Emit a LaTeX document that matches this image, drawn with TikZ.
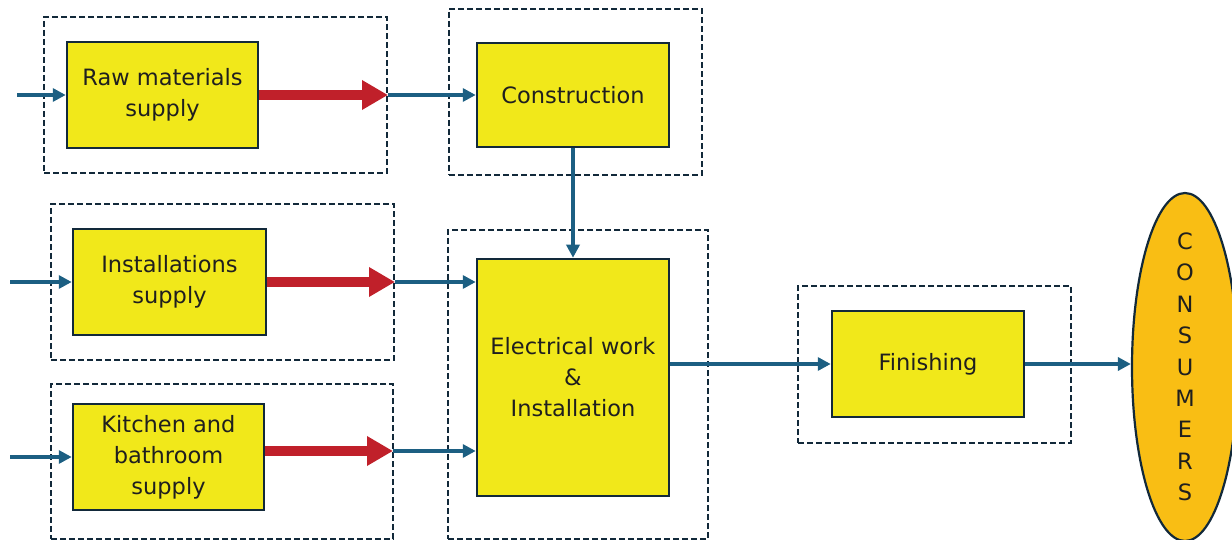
\documentclass[tikz,border=0pt]{standalone}
\usepackage{fontspec}
\setmainfont{DejaVu Sans}
\usetikzlibrary{arrows.meta,shapes.geometric}
\definecolor{boxyellow}{HTML}{F1E81A}
\definecolor{consorange}{HTML}{F9BE14}
\definecolor{flowblue}{HTML}{1C5F82}
\definecolor{flowred}{HTML}{C0202A}
\definecolor{edgedark}{HTML}{12293A}
\begin{document}
\begin{tikzpicture}[x=1pt,y=-1pt,
  stage/.style={draw=edgedark,line width=2.5pt,fill=boxyellow,align=center,inner sep=0pt,
    minimum width=191pt,minimum height=106pt,text=black!88,font=\fontsize{22.5}{31}\selectfont},
  frame/.style={draw=edgedark,line width=2pt,dash pattern=on 6pt off 3pt,inner sep=0pt},
  flow/.style={draw=flowblue,line width=4pt,-{Triangle[length=13pt,width=13pt]}},
  supply/.style={draw=flowred,line width=9.5pt,-{Triangle[length=26pt,width=28pt]}}]
\useasboundingbox (0,0) rectangle (1232,540);

\node[frame,minimum width=343pt,minimum height=156pt] (rawframe) at (215.5,95) {};
\node[frame,minimum width=253pt,minimum height=166pt] (consframe) at (575.5,92) {};
\node[frame,minimum width=343pt,minimum height=156pt] (instframe) at (222.5,282) {};
\node[frame,minimum width=342pt,minimum height=155pt] (kitframe) at (222,461.5) {};
\node[frame,minimum width=260pt,minimum height=309pt] (elecframe) at (578,384.5) {};
\node[frame,minimum width=273pt,minimum height=157pt] (finframe) at (934.5,364.5) {};

\node[stage] (raw) at (162.5,95) {Raw materials\\supply};
\node[stage,minimum width=192pt,minimum height=104pt] (cons) at (573,95) {Construction};
\node[stage,minimum width=193pt] (inst) at (169.5,282) {Installations\\supply};
\node[stage] (kit) at (168.5,457) {Kitchen and\\bathroom\\supply};
\node[stage,minimum width=192pt,minimum height=237pt] (elec) at (573,377.5) {Electrical work\\\&\\Installation};
\node[stage,minimum width=192pt] (fin) at (928,364) {Finishing};
\node[ellipse,draw=edgedark,line width=2.2pt,fill=consorange,inner sep=0pt,
  minimum width=106pt,minimum height=348pt,
  label={[align=center,text=black!88,font=\fontsize{22.5}{31.4}\selectfont]center:C\\O\\N\\S\\U\\M\\E\\R\\S}]
  (consumers) at (1185,367) {};

\coordinate (rawin) at (17,95);
\coordinate (instin) at (10,282);
\coordinate (kitin) at (10,457);
\coordinate (kitout) at (393,451);

\draw[flow] (rawin) -- (raw.west);
\draw[supply] (raw.east) -- (rawframe.east);
\draw[flow] (rawframe.east) -- (cons.west);
\draw[flow] (cons.south) -- (elec.north);

\draw[flow] (instin) -- (inst.west);
\draw[supply] (inst.east) -- (instframe.east);
\draw[flow] (instframe.east) -- (instframe.east -| elec.west);

\draw[flow] (kitin) -- (kit.west);
\draw[supply] (kit.east |- kitout) -- (kitout);
\draw[flow] (kitout) -- (kitout -| elec.west);

\draw[flow] (elec.east |- fin.west) -- (fin.west);
\draw[flow] (fin.east) -- (fin.east -| consumers.west);
\end{tikzpicture}
\end{document}
